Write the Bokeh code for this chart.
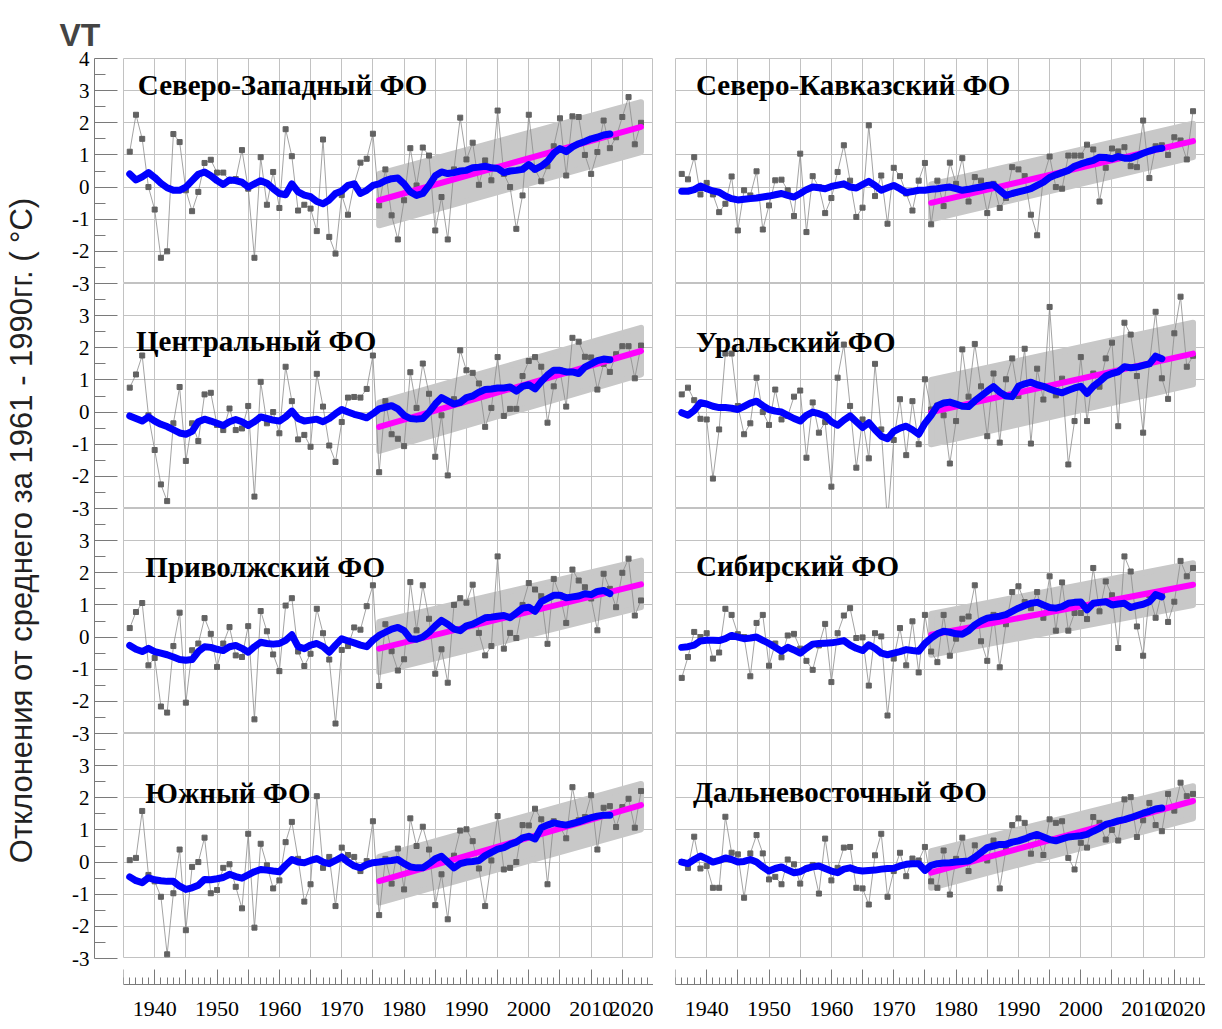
from bokeh.plotting import figure
from bokeh.layouts import row, column
from bokeh.models import Range1d, FixedTicker, Grid, LinearAxis, SingleIntervalTicker, Spacer
from bokeh.embed import file_html
from bokeh.resources import INLINE
from bokeh.core.properties import value

# ---------------- data ----------------
years = list(range(1936, 2019))
smooth_years = list(range(1936, 2014))
trend_years = [1976, 2018]
decade_labels = list(range(1940, 2021, 10))
y_tick_labels = ["-3", "-2", "-1", "0", "1", "2", "3", "4"]

district_names = ["Северо-Западный ФО", "Центральный ФО", "Приволжский ФО", "Южный ФО",
                  "Северо-Кавказский ФО", "Уральский ФО", "Сибирский ФО", "Дальневосточный ФО"]

anom_nw = [1.1, 2.25, 1.5, 0.0, -0.7, -2.2, -2.0, 1.65, 1.4, -0.1,
           -0.75, -0.15, 0.75, 0.85, 0.45, 0.45, 0.2, 0.25, 1.15, -0.05,
           -2.2, 0.93, -0.55, 0.47, -0.65, 1.8, 0.96, -0.73, -0.55, -0.67,
           -1.37, 1.48, -1.55, -2.07, -0.25, -0.86, 0.1, 0.76, 0.88, 1.66,
           -0.57, 0.55, -0.88, -1.63, -0.41, 1.21, 0.05, 1.23, 0.98, -1.35,
           -0.31, -1.63, 0.55, 2.16, 0.86, 1.38, 0.07, 0.83, 0.21, 2.38,
           0.41, 0.0, -1.3, -0.26, 2.25, 0.55, 0.18, 0.65, 1.27, 2.14,
           0.36, 2.2, 2.18, 1.0, 0.41, 1.09, 2.07, 1.21, 1.55, 2.18,
           2.8, 1.33, 2.0]
smooth_nw = [0.41, 0.22, 0.32, 0.45, 0.3, 0.12, -0.02, -0.1, -0.1, 0.0,
             0.2, 0.4, 0.47, 0.35, 0.2, 0.08, 0.22, 0.2, 0.15, 0.0,
             0.1, 0.2, 0.12, -0.05, -0.2, -0.24, 0.1, -0.15, -0.25, -0.3,
             -0.45, -0.52, -0.4, -0.2, -0.12, 0.05, 0.1, -0.2, -0.1, 0.05,
             0.1, 0.2, 0.26, 0.28, 0.1, -0.15, -0.26, -0.2, 0.05, 0.35,
             0.47, 0.42, 0.45, 0.5, 0.52, 0.6, 0.62, 0.65, 0.6, 0.58,
             0.45, 0.5, 0.52, 0.55, 0.7, 0.55, 0.65, 0.8, 1.05, 1.2,
             1.1, 1.25, 1.35, 1.42, 1.5, 1.55, 1.62, 1.65]

anom_c = [0.76, 1.17, 1.76, -0.1, -1.18, -2.25, -2.77, -0.35, 0.78, -1.52,
          -0.35, -0.9, 0.55, 0.6, -0.4, -0.56, 0.11, -0.56, -0.51, 0.19,
          -2.63, 0.94, -0.35, 0.0, -0.66, 1.41, 0.34, -0.85, -0.71, -1.08,
          1.19, 0.17, -1.04, -1.55, -0.31, 0.45, 0.47, 0.45, 0.72, 1.76,
          -1.87, 0.34, -0.69, -0.83, -1.06, 1.24, 0.13, 1.51, 0.57, -1.39,
          -0.1, -1.97, 0.4, 1.92, 1.3, 1.22, 0.89, -0.46, 0.13, 1.71,
          -0.12, 0.1, 0.1, 1.12, 1.59, 1.71, 1.41, -0.33, 0.8, 1.3,
          0.17, 2.31, 2.19, 1.72, 1.7, 0.7, 1.5, 1.25, 1.8, 2.05,
          2.05, 1.05, 2.07]
smooth_c = [-0.12, -0.2, -0.28, -0.15, -0.28, -0.38, -0.45, -0.55, -0.65, -0.69,
            -0.6, -0.3, -0.22, -0.28, -0.35, -0.42, -0.3, -0.23, -0.3, -0.42,
            -0.3, -0.15, -0.2, -0.25, -0.28, -0.15, 0.03, -0.2, -0.28, -0.25,
            -0.22, -0.3, -0.2, -0.05, 0.08, 0.0, -0.07, -0.12, -0.18, -0.05,
            0.1, 0.15, 0.2, 0.1, -0.1, -0.2, -0.22, -0.2, 0.0, 0.25,
            0.45, 0.35, 0.25, 0.3, 0.45, 0.5, 0.62, 0.7, 0.72, 0.75,
            0.75, 0.78, 0.65, 0.8, 0.85, 0.72, 0.95, 1.15, 1.3, 1.3,
            1.25, 1.25, 1.2, 1.4, 1.5, 1.6, 1.65, 1.63]

anom_v = [0.28, 0.78, 1.06, -0.88, -0.65, -2.16, -2.35, -0.28, 0.76, -2.04,
          -0.41, -0.2, 0.59, 0.1, -0.93, -0.2, 0.31, -0.57, -0.62, 0.34,
          -2.56, 0.81, 0.18, -0.54, -1.06, 0.98, 1.21, -0.45, -0.9, -0.52,
          0.88, 0.12, -0.7, -2.69, -0.4, -0.28, 0.3, 0.23, 0.96, 1.61,
          -1.52, 0.4, -0.44, -1.04, -0.69, 1.71, 0.21, 1.61, 0.57, -1.14,
          -0.38, -1.42, 1.0, 1.21, 1.07, 1.63, 0.13, -0.57, -0.28, 2.51,
          -0.36, 0.13, -0.03, 1.0, 1.68, 1.48, 1.27, -0.21, 1.81, 1.3,
          0.44, 2.1, 1.76, 1.55, 1.2, 0.21, 1.97, 1.5, 0.93, 2.0,
          2.44, 0.67, 1.14]
smooth_v = [-0.26, -0.38, -0.45, -0.35, -0.45, -0.5, -0.55, -0.62, -0.7, -0.72,
            -0.7, -0.45, -0.3, -0.32, -0.38, -0.42, -0.3, -0.26, -0.35, -0.47,
            -0.3, -0.16, -0.2, -0.22, -0.2, -0.1, 0.07, -0.3, -0.36, -0.25,
            -0.2, -0.3, -0.47, -0.25, -0.05, -0.12, -0.18, -0.25, -0.3, -0.1,
            0.05, 0.15, 0.25, 0.3, 0.2, -0.05, -0.07, 0.0, 0.15, 0.35,
            0.52, 0.4, 0.25, 0.2, 0.35, 0.4, 0.5, 0.6, 0.62, 0.65,
            0.67, 0.6, 0.75, 0.9, 0.93, 0.8, 1.1, 1.2, 1.3, 1.3,
            1.22, 1.25, 1.28, 1.35, 1.32, 1.42, 1.45, 1.35]

anom_s = [0.06, 0.13, 1.59, -0.4, -0.6, -1.08, -2.87, -0.97, 0.39, -2.12,
          -0.15, 0.0, 0.76, -0.97, -0.87, -0.18, -0.07, -0.77, -1.44, 0.88,
          -2.04, 0.57, -0.1, -0.82, -0.57, 0.62, 1.25, 0.1, -1.23, -0.69,
          2.05, -0.18, 0.16, -1.37, 0.45, 0.22, 0.16, -0.28, 0.03, 1.27,
          -1.65, 0.1, -0.67, 0.42, -0.85, 1.36, 0.5, 1.1, 0.39, -1.34,
          -0.38, -1.78, 0.2, 0.98, 1.02, 0.65, -0.2, -1.37, 0.05, 1.43,
          -0.23, -0.18, 0.0, 1.15, 1.14, 1.66, 1.33, -0.69, 1.27, 1.1,
          0.74, 2.33, 1.3, 1.4, 2.08, 0.39, 1.69, 1.74, 1.09, 1.71,
          1.97, 1.07, 2.21]
smooth_s = [-0.46, -0.58, -0.64, -0.49, -0.55, -0.58, -0.6, -0.6, -0.75, -0.85,
            -0.8, -0.72, -0.54, -0.55, -0.52, -0.48, -0.38, -0.45, -0.5, -0.4,
            -0.3, -0.23, -0.25, -0.28, -0.3, -0.1, 0.08, 0.0, -0.02, 0.05,
            0.11, 0.0, -0.05, 0.05, 0.16, 0.0, -0.12, -0.18, -0.08, -0.02,
            0.0, 0.03, 0.05, 0.08, -0.05, -0.15, -0.18, -0.18, -0.05, 0.1,
            0.18, 0.0, -0.18, -0.05, 0.0, 0.02, 0.05, 0.2, 0.3, 0.4,
            0.45, 0.55, 0.62, 0.75, 0.8, 0.72, 1.07, 1.15, 1.22, 1.18,
            1.15, 1.2, 1.25, 1.32, 1.38, 1.43, 1.46, 1.46]

anom_nc = [0.41, 0.24, 0.93, -0.23, 0.13, -0.23, -0.78, -0.52, 0.33, -1.35,
           -0.1, -0.26, 0.49, -1.32, -0.57, 0.21, 0.23, -0.1, -0.9, 1.04,
           -1.4, 0.34, 0.0, -0.81, -0.34, 0.47, 1.3, 0.2, -0.93, -0.64,
           1.92, -0.28, 0.36, -1.14, 0.6, 0.34, -0.2, -0.73, 0.2, 0.75,
           -1.16, 0.2, -0.59, 0.76, 0.1, 0.9, -0.45, 0.31, 0.2, -0.81,
           0.1, -0.65, -0.34, 0.62, 0.55, 0.34, -0.86, -1.5, 0.3, 0.95,
           0.0, -0.05, 0.98, 0.98, 0.98, 1.32, 1.17, -0.45, 0.6, 1.2,
           1.11, 1.24, 0.65, 0.62, 2.07, 0.28, 1.27, 1.3, 1.0, 1.55,
           1.45, 0.86, 2.36]
smooth_nc = [-0.13, -0.13, -0.08, 0.03, -0.05, -0.12, -0.16, -0.28, -0.36, -0.4,
             -0.38, -0.36, -0.34, -0.31, -0.28, -0.24, -0.2, -0.26, -0.31, -0.2,
             -0.08, 0.0, -0.02, -0.05, 0.02, 0.06, 0.1, 0.0, -0.03, 0.08,
             0.18, 0.05, -0.1, -0.02, 0.05, -0.05, -0.17, -0.14, -0.1, -0.1,
             -0.07, -0.05, -0.02, 0.0, -0.05, -0.1, -0.07, -0.03, 0.0, 0.05,
             0.07, -0.1, -0.26, -0.2, -0.15, -0.1, -0.05, 0.05, 0.15, 0.3,
             0.38, 0.45, 0.52, 0.65, 0.72, 0.78, 0.83, 0.93, 0.92, 0.88,
             0.95, 0.9, 0.9, 0.97, 1.05, 1.12, 1.18, 1.21]

anom_u = [0.55, 0.76, 0.37, -0.21, -0.23, -2.07, -0.54, 1.82, 1.82, 0.19,
          -0.69, -0.35, 1.07, 0.0, -0.4, 0.7, -0.23, -0.12, 0.48, 0.67,
          -1.42, 0.3, -0.64, -0.31, -2.32, 1.07, 2.1, 0.19, -1.73, -0.23,
          -1.44, 1.5, -0.54, -3.45, -0.87, 0.4, -1.34, 0.34, -1.0, 1.02,
          0.08, 0.2, -0.1, -1.6, -0.28, 1.95, 0.48, 2.12, 0.8, -0.75,
          1.2, -0.95, 1.02, 1.67, 0.5, 1.97, -0.98, 1.35, 0.39, 3.27,
          0.52, 1.04, -1.63, -0.28, 1.71, -0.28, 1.2, 0.79, 1.67, 2.16,
          -0.44, 2.78, 2.41, 1.12, -0.64, 1.5, 3.12, 1.05, 0.41, 2.45,
          3.59, 1.41, 1.75]
smooth_u = [-0.02, -0.1, 0.05, 0.29, 0.25, 0.18, 0.14, 0.14, 0.12, 0.08,
            0.18, 0.28, 0.34, 0.2, 0.08, 0.03, 0.0, -0.1, -0.2, -0.28,
            -0.1, 0.0, -0.05, -0.12, -0.3, -0.41, -0.25, -0.12, -0.3, -0.48,
            -0.33, -0.55, -0.75, -0.83, -0.6, -0.5, -0.44, -0.55, -0.69, -0.35,
            -0.1, 0.2, 0.28, 0.31, 0.25, 0.18, 0.17, 0.35, 0.5, 0.65,
            0.79, 0.62, 0.5, 0.48, 0.8, 0.88, 0.93, 0.85, 0.8, 0.72,
            0.65, 0.6, 0.68, 0.75, 0.8, 0.58, 0.8, 0.95, 1.12, 1.2,
            1.25, 1.41, 1.38, 1.4, 1.45, 1.5, 1.74, 1.66]

anom_sib = [-1.27, -0.62, 0.16, 0.0, 0.12, -0.67, -0.48, 0.88, 0.69, 0.09,
            0.0, -1.22, 0.44, 0.69, -0.89, -0.2, -0.63, 0.05, 0.1, -0.36,
            -0.74, -1.02, -0.26, 0.41, -1.4, 0.12, 0.67, 0.9, -0.03, -0.01,
            -1.51, 0.12, 0.02, -2.44, -0.67, 0.28, -0.88, 0.49, -1.1, 0.69,
            -0.45, -0.78, 0.69, -0.58, -0.05, 0.57, 0.64, 1.61, -0.13, -0.74,
            0.69, -0.94, 0.4, 1.4, 1.58, 1.09, 0.9, 1.4, 0.6, 1.89,
            0.2, 1.7, 0.2, 0.75, 0.75, 0.56, 2.15, 0.8, 1.73, 1.3,
            -0.34, 2.51, 2.04, 0.33, -0.58, 1.3, 0.6, 1.4, 0.47, 1.1,
            2.37, 1.89, 2.15]
smooth_sib = [-0.32, -0.3, -0.25, -0.12, -0.1, -0.1, -0.11, -0.05, 0.05, 0.0,
              -0.05, -0.03, 0.0, -0.1, -0.2, -0.32, -0.44, -0.32, -0.4, -0.5,
              -0.35, -0.22, -0.2, -0.19, -0.18, -0.15, -0.11, -0.25, -0.35, -0.42,
              -0.24, -0.35, -0.5, -0.55, -0.5, -0.45, -0.39, -0.42, -0.44, -0.2,
              -0.03, 0.1, 0.18, 0.15, 0.1, 0.09, 0.2, 0.38, 0.5, 0.59,
              0.62, 0.65, 0.7, 0.8, 0.9, 0.98, 1.05, 1.08, 1.0, 0.92,
              0.9, 0.95, 1.05, 1.08, 1.09, 0.85, 1.05, 1.08, 1.1, 1.0,
              1.03, 1.05, 0.92, 0.98, 1.02, 1.1, 1.32, 1.25]

anom_fe = [0.0, -0.18, 0.79, -0.2, -0.12, -0.8, -0.8, 1.41, 0.29, 0.24,
           -1.11, 0.27, 0.84, 0.27, -0.54, -0.46, -0.69, 0.08, -0.07, -0.67,
           -0.2, -0.09, -0.98, 0.73, -0.57, -0.18, 0.45, 0.47, -0.8, -0.82,
           -1.32, 0.21, 0.88, -1.08, -0.28, 0.29, -0.44, 0.11, 0.05, 0.47,
           -0.6, -0.8, 0.36, -1.01, 0.1, 0.76, -0.28, 0.52, 0.2, 0.05,
           0.67, -0.82, 0.4, 1.15, 1.36, 1.22, 0.26, 0.8, 0.22, 1.33,
           1.22, 1.27, 0.13, -0.23, 0.6, 0.45, 1.4, 1.22, 0.7, 1.0,
           0.67, 1.95, 2.02, 0.78, 1.3, 1.84, 1.15, 0.96, 2.12, 1.6,
           2.47, 2.05, 2.12]
smooth_fe = [0.0, -0.05, 0.08, 0.19, 0.1, 0.0, 0.05, 0.13, 0.08, 0.0,
             0.02, 0.08, 0.0, -0.15, -0.28, -0.2, -0.15, -0.25, -0.33, -0.3,
             -0.2, -0.15, -0.12, -0.2, -0.28, -0.33, -0.22, -0.18, -0.25, -0.28,
             -0.26, -0.25, -0.22, -0.2, -0.19, -0.12, -0.07, -0.05, -0.05, -0.26,
             -0.1, -0.05, -0.03, -0.02, 0.0, 0.02, 0.03, 0.15, 0.3, 0.45,
             0.5, 0.55, 0.55, 0.62, 0.66, 0.72, 0.8, 0.86, 0.78, 0.7,
             0.66, 0.72, 0.78, 0.8, 0.82, 0.86, 0.96, 1.05, 1.17, 1.22,
             1.28, 1.32, 1.38, 1.45, 1.52, 1.58, 1.65, 1.68]

# linear trend 1976-2018 and its confidence band (values at 1976 and 2018)
trend_nw, band_lo_nw, band_hi_nw = [-0.41, 1.87], [-1.19, 1.09], [0.41, 2.64]
trend_c, band_lo_c, band_hi_c = [-0.46, 1.90], [-1.21, 1.17], [0.29, 2.62]
trend_v, band_lo_v, band_hi_v = [-0.36, 1.64], [-1.09, 0.93], [0.47, 2.38]
trend_s, band_lo_s, band_hi_s = [-0.59, 1.77], [-1.26, 1.02], [0.16, 2.43]
trend_nc, band_lo_nc, band_hi_nc = [-0.49, 1.43], [-1.00, 0.93], [0.08, 1.97]
trend_u, band_lo_u, band_hi_u = [0.00, 1.82], [-1.00, 0.86], [1.00, 2.78]
trend_sib, band_lo_sib, band_hi_sib = [0.07, 1.63], [-0.55, 1.00], [0.72, 2.30]
trend_fe, band_lo_fe, band_hi_fe = [-0.33, 1.90], [-0.80, 1.36], [0.34, 2.36]

series = [
    (anom_nw, smooth_nw, trend_nw, band_lo_nw, band_hi_nw),
    (anom_c, smooth_c, trend_c, band_lo_c, band_hi_c),
    (anom_v, smooth_v, trend_v, band_lo_v, band_hi_v),
    (anom_s, smooth_s, trend_s, band_lo_s, band_hi_s),
    (anom_nc, smooth_nc, trend_nc, band_lo_nc, band_hi_nc),
    (anom_u, smooth_u, trend_u, band_lo_u, band_hi_u),
    (anom_sib, smooth_sib, trend_sib, band_lo_sib, band_hi_sib),
    (anom_fe, smooth_fe, trend_fe, band_lo_fe, band_hi_fe),
]

# ---------------- layout / style ----------------
FW = 530          # panel frame width
FH = 225          # panel frame height
TOP = 58          # space above first panel
GAP = 22          # gap between the two columns
EXT = 44          # side frame extends below the panels (centres the axis title lower)
RULER_H = 53      # height of the ruler frame (ticks + labels inside)
RULER_LINE = 16   # ruler line position below the ruler frame top (px)
X0, X1 = 1935, 2020
GRID = "#c2c2c2"
SERIF = "Liberation Serif"
SANS = "Liberation Sans"

# title anchor (year, value) per panel
title_pos = [(1937.3, 3.17), (1937.0, 2.20), (1938.5, 2.18), (1938.5, 2.16),
             (1938.3, 3.17), (1938.3, 2.19), (1938.3, 2.20), (1937.8, 2.19)]


def make_panel(i):
    anom, smooth, trend, lo, hi = series[i]
    p = figure(frame_width=FW, frame_height=FH,
               x_range=Range1d(X0, X1), y_range=Range1d(-3, 4),
               x_axis_type=None, y_axis_type=None, title=None,
               toolbar_location=None, output_backend="svg",
               min_border=0, outline_line_color=GRID,
               background_fill_color="white", border_fill_color="white")
    p.add_layout(Grid(dimension=0, ticker=SingleIntervalTicker(interval=5),
                      grid_line_color=GRID, grid_line_width=1))
    p.add_layout(Grid(dimension=1, ticker=SingleIntervalTicker(interval=1),
                      grid_line_color=GRID, grid_line_width=1))
    bx = trend_years + trend_years[::-1]
    by = lo + hi[::-1]
    p.patch(bx, by, fill_color="#c8c8c8", line_color="#c8c8c8",
            line_width=6, line_join="round")
    p.line(years, anom, line_color="#8c8c8c", line_width=0.8)
    p.scatter(years, anom, marker="square", size=5, fill_color="#626262",
              line_color="#626262")
    p.line(trend_years, trend, line_color="#ff00ff", line_width=6,
           line_cap="round")
    p.line(smooth_years, smooth, line_color="#0000ff", line_width=7,
           line_join="round", line_cap="round")
    tx, ty = title_pos[i]
    p.text(x=[tx], y=[ty], text=[district_names[i]],
           text_font=value(SERIF), text_font_style="bold",
           text_font_size="29px", text_color="black",
           text_baseline="alphabetic", text_align="left")
    return p


def make_ruler():
    r = figure(frame_width=FW, frame_height=RULER_H,
               x_range=Range1d(X0, X1), y_range=Range1d(0, RULER_H),
               x_axis_type=None, y_axis_type=None, title=None,
               toolbar_location=None, output_backend="svg",
               min_border_left=0, min_border_right=0,
               min_border_top=10, min_border_bottom=0,
               outline_line_color=None)
    five = list(range(X0, X1 + 1, 5))
    ax = LinearAxis(ticker=FixedTicker(ticks=five, minor_ticks=list(range(X0, X1 + 1))),
                    fixed_location=RULER_H - RULER_LINE,
                    major_label_overrides={t: (str(t) if t in decade_labels else "") for t in five},
                    major_tick_in=15, major_tick_out=0,
                    minor_tick_in=7, minor_tick_out=0,
                    axis_line_color="#7a7a7a", major_tick_line_color="#7a7a7a",
                    minor_tick_line_color="#7a7a7a",
                    major_label_text_font=SERIF, major_label_text_font_size="22px",
                    major_label_text_color="black", major_label_standoff=17)
    r.add_layout(ax, "below")
    return r


# side figure with the shared stacked y axis
n_rows = 4
span = len(y_tick_labels) - 1          # 7 units per panel
total = n_rows * span                  # 28
tick_overrides = {}
for u in range(total + 1):
    tick_overrides[u] = y_tick_labels[-1] if u == total else y_tick_labels[u % span]

units_per_px = total / (n_rows * FH)
side = figure(frame_width=29, frame_height=n_rows * FH + EXT,
              x_range=Range1d(0, 1), y_range=Range1d(-EXT * units_per_px, total),
              x_axis_type=None, y_axis_type=None, title="VT",
              toolbar_location=None, output_backend="svg",
              min_border_left=94, min_border_right=0,
              min_border_top=TOP, min_border_bottom=63 - EXT,
              outline_line_color=None)
side.title.text_font = SANS
side.title.text_font_style = "bold"
side.title.text_font_size = "32px"
side.title.align = "left"
side.title.offset = -35
side.title.standoff = 11
yax = LinearAxis(ticker=FixedTicker(ticks=list(range(total + 1)),
                                    minor_ticks=[u + 0.5 for u in range(total)]),
                 bounds=(0, total),
                 major_label_overrides=tick_overrides,
                 major_tick_in=23, major_tick_out=0,
                 minor_tick_in=11, minor_tick_out=0,
                 axis_line_color="#7a7a7a", major_tick_line_color="#7a7a7a",
                 minor_tick_line_color="#7a7a7a",
                 major_label_text_font=SERIF, major_label_text_font_size="21px",
                 major_label_text_color="black", major_label_standoff=5,
                 axis_label="Отклонения от среднего за 1961 - 1990гг. ( °C)",
                 axis_label_text_font=SANS, axis_label_text_font_size="31px",
                 axis_label_text_font_style="normal", axis_label_text_color="#222222",
                 axis_label_standoff=30)
side.add_layout(yax, "left")

left_col = column([Spacer(width=FW, height=TOP)] + [make_panel(i) for i in range(4)] + [make_ruler()],
                  spacing=0)
right_col = column([Spacer(width=FW, height=TOP)] + [make_panel(i) for i in range(4, 8)] + [make_ruler()],
                   spacing=0)
layout = row([side, left_col, Spacer(width=GAP, height=10), right_col], spacing=0)

open("out.html", "w").write(file_html(layout, INLINE, "VT"))
